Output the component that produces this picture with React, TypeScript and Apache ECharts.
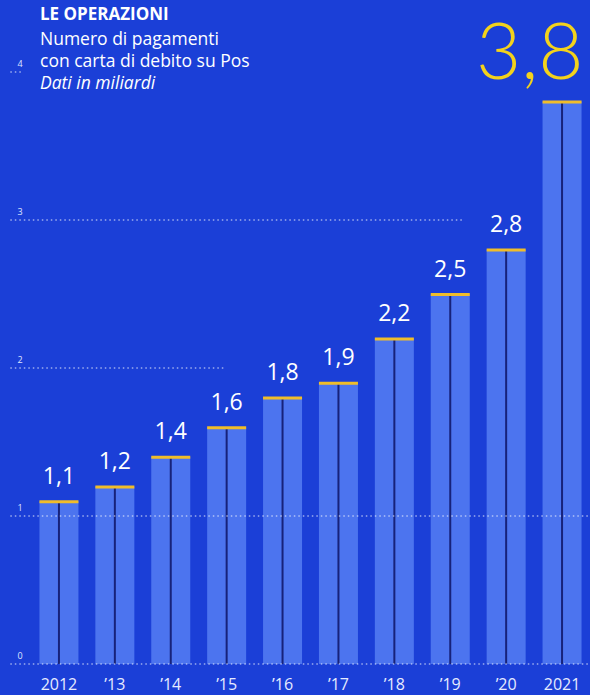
import React, { useEffect, useRef } from "react";
import * as echarts from "echarts";

const categories = ["2012", "’13", "’14", "’15", "’16", "’17", "’18", "’19", "’20", "2021"];
const values = [1.1, 1.2, 1.4, 1.6, 1.8, 1.9, 2.2, 2.5, 2.8, 3.8];
const gridValues = [0, 1, 2, 3, 4];
// where each dotted gridline stops, in category units
const gridEnds = [9.6, 9.6, 2.99, 7.24, -0.68];
const titleLines = ["LE OPERAZIONI", "Numero di pagamenti", "con carta di debito su Pos", "Dati in miliardi"];

const BG = "#1b3fd7";
const BAR = "#4c74ef";
const CAP = "#f0bd2a";
const FONT = "'Open Sans', sans-serif";

const fmt = (v: number) => v.toFixed(1).replace(".", ",");

export default function App() {
  const ref = useRef<HTMLDivElement>(null);
  useEffect(() => {
    if (!ref.current) return;
    const chart = echarts.init(ref.current, undefined, { renderer: "svg" });
    const last = values.length - 1;
    chart.setOption({
      animation: false,
      backgroundColor: BG,
      grid: { left: 31, top: 72, width: 565, bottom: 31, containLabel: false },
      xAxis: {
        type: "category",
        data: categories,
        axisLine: { show: false },
        axisTick: { show: false },
        axisLabel: { color: "#e6ebff", fontSize: 16, margin: 12, fontFamily: FONT },
      },
      yAxis: { type: "value", min: 0, max: 4, show: false, splitLine: { show: false } },
      graphic: titleLines.map((t, i) => ({
        type: "text",
        left: 40,
        top: i === 0 ? 5 : 7 + i * 22,
        style: {
          text: t,
          fill: "#ffffff",
          font:
            i === 0
              ? `bold 17px ${FONT}`
              : i === 3
              ? `italic 17.5px ${FONT}`
              : `17.5px ${FONT}`,
        },
      })),
      series: [
        {
          type: "custom",
          z: 2,
          data: values.map((v, i) => [i, v]),
          encode: { x: 0, y: 1 },
          renderItem: (params: any, api: any) => {
            const idx = api.value(0);
            const val = api.value(1);
            const top = api.coord([idx, val]);
            const base = api.coord([idx, 0]);
            const bw = 39;
            const isLast = params.dataIndex === last;
            const label = isLast
              ? {
                  type: "text",
                  style: {
                    x: top[0] + bw / 2 + 2,
                    y: top[1] - 53,
                    text: fmt(val),
                    textAlign: "right",
                    textVerticalAlign: "middle",
                    verticalAlign: "middle",
                    fill: "#f3d21c",
                    font: `300 78px Lato, ${FONT}`,
                  },
                }
              : {
                  type: "text",
                  style: {
                    x: top[0],
                    y: top[1] - 15,
                    text: fmt(val),
                    textAlign: "center",
                    textVerticalAlign: "bottom",
                    verticalAlign: "bottom",
                    fill: "#ffffff",
                    font: `23px ${FONT}`,
                  },
                };
            return {
              type: "group",
              children: [
                {
                  type: "rect",
                  shape: { x: top[0] - bw / 2, y: top[1], width: bw, height: base[1] - top[1] },
                  style: { fill: BAR },
                },
                {
                  type: "rect",
                  shape: { x: top[0] - 1, y: top[1], width: 2, height: base[1] - top[1] },
                  style: { fill: "#17227a" },
                },
                {
                  type: "rect",
                  shape: { x: top[0] - bw / 2, y: top[1] - 1, width: bw, height: 3 },
                  style: { fill: CAP },
                },
                label,
              ],
            };
          },
        },
        {
          type: "custom",
          z: 5,
          data: gridValues.map((v) => [0, v]),
          encode: { x: 0, y: 1 },
          renderItem: (params: any, api: any) => {
            const v = api.value(1);
            const p = api.coord([0, v]);
            const band = api.size([1, 0])[0];
            const x0 = p[0] - 0.87 * band;
            const x1 = p[0] + gridEnds[params.dataIndex] * band;
            return {
              type: "group",
              children: [
                {
                  type: "line",
                  shape: { x1: x0, y1: p[1], x2: x1, y2: p[1] },
                  style: { stroke: "rgba(255,255,255,0.85)", lineWidth: 1.2, lineDash: [1.5, 3] },
                },
                {
                  type: "text",
                  style: {
                    x: 20,
                    y: p[1] - 9,
                    text: String(v),
                    textAlign: "center",
                    textVerticalAlign: "middle",
                    verticalAlign: "middle",
                    fill: "#dfe5ff",
                    font: `9px ${FONT}`,
                  },
                },
              ],
            };
          },
        },
      ],
    });
    return () => chart.dispose();
  }, []);
  return (
    <div
      ref={ref}
      style={{ position: "fixed", left: 0, top: 0, width: 590, height: 695 }}
    />
  );
}
